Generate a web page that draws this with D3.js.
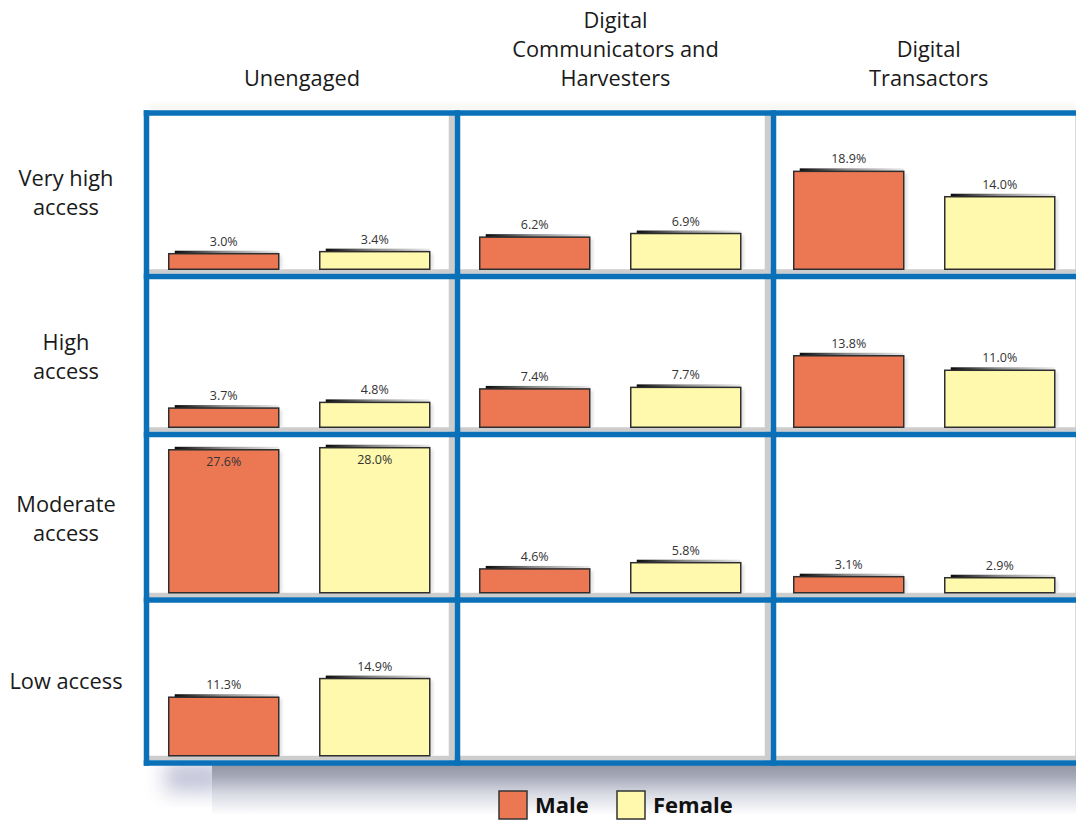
<!DOCTYPE html>
<html>
<head>
<meta charset="utf-8">
<script src="https://cdn.jsdelivr.net/npm/d3@7"></script>
<style>
  html, body { margin: 0; padding: 0; background: #ffffff; }
  svg { display: block; }
  text { font-family: "Open Sans", "Noto Sans", sans-serif; }
</style>
</head>
<body>
<svg id="chart" width="1076" height="820"></svg>
<script>
// Column (segment) and row (access level) categories
const segments = [
  ["Unengaged"],
  ["Digital", "Communicators and", "Harvesters"],
  ["Digital", "Transactors"]
];
const accessLevels = [
  ["Very high", "access"],
  ["High", "access"],
  ["Moderate", "access"],
  ["Low access"]
];
const genders = ["Male", "Female"];

// Share of population (%) by access level (rows) and segment (columns)
const maleValues = [
  [3.0, 6.2, 18.9],
  [3.7, 7.4, 13.8],
  [27.6, 4.6, 3.1],
  [11.3, null, null]
];
const femaleValues = [
  [3.4, 6.9, 14.0],
  [4.8, 7.7, 11.0],
  [28.0, 5.8, 2.9],
  [14.9, null, null]
];

const colors = { Male: "#ec7853", Female: "#fff9ad" };
const frameBlue = "#0a70b8";
const gutterGray = "#cdcdcd";

const svg = d3.select("#chart");
const defs = svg.append("defs");

// Layout of the panel grid (centre lines of the blue frame)
const colEdges = [146.5, 457.5, 773.5, 1084];
const rowEdges = [113, 276.5, 434.5, 600, 763];
const frameW = 5.5;
const gutter = 6;       // grey strip along the right of each cell
const floorH = 4.5;     // grey strip along the bottom of each cell

// Height scale shared by every panel
const h = d3.scaleLinear().domain([0, 30]).range([0, 155.4]);

// Gradients
const topShade = defs.append("linearGradient").attr("id", "barTopShade")
  .attr("x1", "0").attr("x2", "1").attr("y1", "0").attr("y2", "0");
topShade.append("stop").attr("offset", "0").attr("stop-color", "#0a0a0a");
topShade.append("stop").attr("offset", "0.45").attr("stop-color", "#8a8a8a");
topShade.append("stop").attr("offset", "1").attr("stop-color", "#ececec");

const floorShadow = defs.append("linearGradient").attr("id", "floorShadow")
  .attr("x1", "0").attr("x2", "0").attr("y1", "0").attr("y2", "1");
floorShadow.append("stop").attr("offset", "0").attr("stop-color", "#8f939f");
floorShadow.append("stop").attr("offset", "0.25").attr("stop-color", "#a4a8b7");
floorShadow.append("stop").attr("offset", "0.6").attr("stop-color", "#d9dbe4");
floorShadow.append("stop").attr("offset", "1").attr("stop-color", "#ffffff");

const topHaze = defs.append("linearGradient").attr("id", "topHaze")
  .attr("x1", "0").attr("x2", "0").attr("y1", "0").attr("y2", "1");
topHaze.append("stop").attr("offset", "0").attr("stop-color", "#ffffff");
topHaze.append("stop").attr("offset", "1").attr("stop-color", "#f4f4f0");

const blur = defs.append("filter").attr("id", "softBlur")
  .attr("x", "-50%").attr("y", "-50%").attr("width", "200%").attr("height", "200%");
blur.append("feGaussianBlur").attr("stdDeviation", 10);

const barBlur = defs.append("filter").attr("id", "barBlur")
  .attr("x", "-50%").attr("y", "-50%").attr("width", "200%").attr("height", "200%");
barBlur.append("feGaussianBlur").attr("stdDeviation", 1.5);

// Soft haze above the frame and shadow cast below it
svg.append("rect")
  .attr("x", 150).attr("y", 100).attr("width", 1076 - 150).attr("height", 10)
  .attr("fill", "url(#topHaze)").attr("filter", "url(#barBlur)");

svg.append("rect")
  .attr("x", 165).attr("y", 762).attr("width", 60).attr("height", 30)
  .attr("fill", "#c3c4d8").attr("filter", "url(#softBlur)");
svg.append("rect")
  .attr("x", 212).attr("y", rowEdges[4]).attr("width", 1076 - 212).attr("height", 52)
  .attr("fill", "url(#floorShadow)");

// Cells
const cells = [];
accessLevels.forEach((_, r) => {
  segments.forEach((_, c) => {
    cells.push({ r, c });
  });
});

const cellG = svg.append("g").selectAll("g").data(cells).join("g");

cellG.append("rect")
  .attr("x", d => colEdges[d.c])
  .attr("y", d => rowEdges[d.r])
  .attr("width", d => colEdges[d.c + 1] - colEdges[d.c])
  .attr("height", d => rowEdges[d.r + 1] - rowEdges[d.r])
  .attr("fill", "#ffffff");

// grey floor strip
cellG.append("rect")
  .attr("x", d => colEdges[d.c])
  .attr("y", d => rowEdges[d.r + 1] - frameW / 2 - floorH)
  .attr("width", d => colEdges[d.c + 1] - colEdges[d.c])
  .attr("height", floorH)
  .attr("fill", gutterGray);

// grey right strip
cellG.append("rect")
  .attr("x", d => colEdges[d.c + 1] - frameW / 2 - gutter)
  .attr("y", d => rowEdges[d.r])
  .attr("width", gutter)
  .attr("height", d => rowEdges[d.r + 1] - rowEdges[d.r])
  .attr("fill", gutterGray);

// Bars
const barData = [];
cells.forEach(({ r, c }) => {
  genders.forEach(g => {
    const v = (g === "Male" ? maleValues : femaleValues)[r][c];
    if (v != null) barData.push({ r, c, g, v });
  });
});

function xBand(c) {
  const left = colEdges[c] + frameW / 2 - (c === 2 ? 2 : 0);
  return d3.scaleBand().domain(genders).range([left, left + 300])
    .paddingInner(0.2715).paddingOuter(0.129);
}
const baseline = r => rowEdges[r + 1] - frameW / 2 - floorH;
const innerTop = r => rowEdges[r] + frameW / 2;

const barG = svg.append("g").selectAll("g").data(barData).join("g");

barG.each(function (d) {
  const g = d3.select(this);
  const x = xBand(d.c);
  const x0 = x(d.g), w = x.bandwidth();
  const y0 = baseline(d.r) - h(d.v);
  const hh = h(d.v);

  // faint side shadow
  g.append("rect")
    .attr("x", x0 + w).attr("y", y0 + 2).attr("width", 3).attr("height", hh - 2)
    .attr("fill", "#dcdcdc").attr("filter", "url(#barBlur)");

  // dark shading strip along the top edge
  g.append("rect")
    .attr("x", x0 + 6).attr("y", y0 - 3).attr("width", w - 6).attr("height", 3.5)
    .attr("fill", "url(#barTopShade)");

  g.append("rect")
    .attr("x", x0).attr("y", y0).attr("width", w).attr("height", hh)
    .attr("fill", colors[d.g])
    .attr("stroke", "#2e2e2e").attr("stroke-width", 1.5);

  const inside = y0 - 22 < innerTop(d.r);
  g.append("text")
    .attr("x", x0 + w / 2)
    .attr("y", inside ? y0 + 16 : y0 - 8)
    .attr("text-anchor", "middle")
    .attr("font-size", 12.5)
    .attr("fill", "#333333")
    .text(d3.format(".1f")(d.v) + "%");
});

// Blue frame lines
const frame = svg.append("g").attr("stroke", frameBlue).attr("stroke-width", frameW);
frame.selectAll("line.h").data(rowEdges).join("line")
  .attr("class", "h")
  .attr("x1", colEdges[0] - frameW / 2).attr("x2", colEdges[3] + frameW / 2)
  .attr("y1", d => d).attr("y2", d => d);
frame.selectAll("line.v").data(colEdges).join("line")
  .attr("class", "v")
  .attr("y1", rowEdges[0] - frameW / 2).attr("y2", rowEdges[4] + frameW / 2)
  .attr("x1", d => d).attr("x2", d => d);

// Column headers (bottom-aligned)
const headerG = svg.append("g");
segments.forEach((lines, c) => {
  const cx = (colEdges[c] + colEdges[c + 1]) / 2;
  const n = lines.length;
  lines.forEach((t, i) => {
    headerG.append("text")
      .attr("x", cx)
      .attr("y", 86 - (n - 1 - i) * 29)
      .attr("text-anchor", "middle")
      .attr("font-size", 21.8)
      .attr("fill", "#1a1a1a")
      .text(t);
  });
});

// Row labels (vertically centred on each row)
const rowLabelG = svg.append("g");
accessLevels.forEach((lines, r) => {
  const cy = [193, 357, 519, 682][r];
  const n = lines.length;
  lines.forEach((t, i) => {
    rowLabelG.append("text")
      .attr("x", 66)
      .attr("y", cy + (i - (n - 1) / 2) * 29 + 7)
      .attr("text-anchor", "middle")
      .attr("font-size", 21.8)
      .attr("fill", "#1a1a1a")
      .text(t);
  });
});

// Legend
const legend = svg.append("g");
const legendItems = [
  { g: "Male", x: 499 },
  { g: "Female", x: 617 }
];
legendItems.forEach(it => {
  legend.append("rect")
    .attr("x", it.x).attr("y", 791).attr("width", 28).attr("height", 28)
    .attr("fill", colors[it.g]).attr("stroke", "#333333").attr("stroke-width", 1.5);
  legend.append("text")
    .attr("x", it.x + 36).attr("y", 813)
    .attr("font-size", 22).attr("font-weight", "bold")
    .attr("fill", "#111111")
    .text(it.g);
});
</script>
</body>
</html>
